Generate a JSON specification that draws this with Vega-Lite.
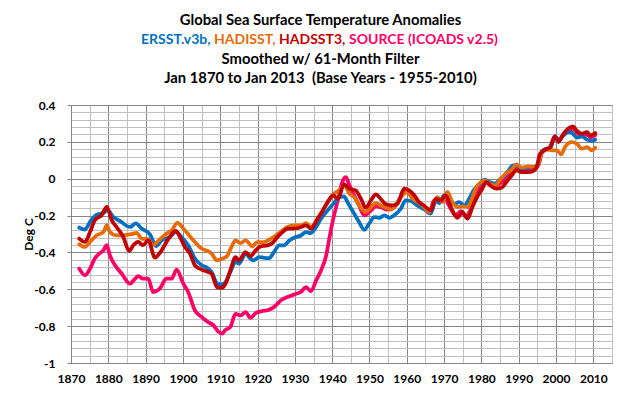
{
  "$schema": "https://vega.github.io/schema/vega-lite/v6.json",
  "width": 541,
  "height": 258,
  "autosize": {"type": "none"},
  "padding": {"left": 71, "top": 105, "right": 30, "bottom": 36},
  "background": "white",
  "config": {
    "view": {"stroke": "#868686", "strokeWidth": 1},
    "font": "Lato"
  },
  "title": {
    "text": "Global Sea Surface Temperature Anomalies",
    "subtitle": ["Smoothed w/ 61-Month Filter", "Jan 1870 to Jan 2013\u00a0 (Base Years - 1955-2010)"],
    "font": "Lato",
    "fontSize": 14.8,
    "fontWeight": "bold",
    "color": "black",
    "subtitleFont": "Lato",
    "subtitleFontSize": 14.8,
    "subtitleFontWeight": "bold",
    "subtitleColor": "black",
    "subtitleLineHeight": 19.4,
    "subtitlePadding": 24,
    "anchor": "middle",
    "frame": "group",
    "dx": -21,
    "offset": -53
  },
  "data": {
    "values": [
      {"s": "SOURCE (ICOADS v2.5)", "t": 1872.2, "v": -0.488},
      {"s": "SOURCE (ICOADS v2.5)", "t": 1873.75, "v": -0.524},
      {"s": "SOURCE (ICOADS v2.5)", "t": 1875.1, "v": -0.488},
      {"s": "SOURCE (ICOADS v2.5)", "t": 1876.4, "v": -0.433},
      {"s": "SOURCE (ICOADS v2.5)", "t": 1877.8, "v": -0.403},
      {"s": "SOURCE (ICOADS v2.5)", "t": 1878.7, "v": -0.388},
      {"s": "SOURCE (ICOADS v2.5)", "t": 1879.6, "v": -0.361},
      {"s": "SOURCE (ICOADS v2.5)", "t": 1880.4, "v": -0.415},
      {"s": "SOURCE (ICOADS v2.5)", "t": 1881.8, "v": -0.47},
      {"s": "SOURCE (ICOADS v2.5)", "t": 1883.6, "v": -0.515},
      {"s": "SOURCE (ICOADS v2.5)", "t": 1885.8, "v": -0.569},
      {"s": "SOURCE (ICOADS v2.5)", "t": 1887.2, "v": -0.542},
      {"s": "SOURCE (ICOADS v2.5)", "t": 1888.0, "v": -0.529},
      {"s": "SOURCE (ICOADS v2.5)", "t": 1889.3, "v": -0.542},
      {"s": "SOURCE (ICOADS v2.5)", "t": 1890.7, "v": -0.542},
      {"s": "SOURCE (ICOADS v2.5)", "t": 1892.0, "v": -0.615},
      {"s": "SOURCE (ICOADS v2.5)", "t": 1893.8, "v": -0.596},
      {"s": "SOURCE (ICOADS v2.5)", "t": 1895.6, "v": -0.542},
      {"s": "SOURCE (ICOADS v2.5)", "t": 1897.0, "v": -0.542},
      {"s": "SOURCE (ICOADS v2.5)", "t": 1898.3, "v": -0.493},
      {"s": "SOURCE (ICOADS v2.5)", "t": 1900.1, "v": -0.569},
      {"s": "SOURCE (ICOADS v2.5)", "t": 1901.4, "v": -0.615},
      {"s": "SOURCE (ICOADS v2.5)", "t": 1903.2, "v": -0.714},
      {"s": "SOURCE (ICOADS v2.5)", "t": 1905.0, "v": -0.75},
      {"s": "SOURCE (ICOADS v2.5)", "t": 1906.5, "v": -0.775},
      {"s": "SOURCE (ICOADS v2.5)", "t": 1908.2, "v": -0.796},
      {"s": "SOURCE (ICOADS v2.5)", "t": 1909.5, "v": -0.83},
      {"s": "SOURCE (ICOADS v2.5)", "t": 1910.5, "v": -0.84},
      {"s": "SOURCE (ICOADS v2.5)", "t": 1911.4, "v": -0.82},
      {"s": "SOURCE (ICOADS v2.5)", "t": 1912.7, "v": -0.805},
      {"s": "SOURCE (ICOADS v2.5)", "t": 1914.1, "v": -0.733},
      {"s": "SOURCE (ICOADS v2.5)", "t": 1915.4, "v": -0.742},
      {"s": "SOURCE (ICOADS v2.5)", "t": 1916.8, "v": -0.724},
      {"s": "SOURCE (ICOADS v2.5)", "t": 1918.1, "v": -0.755},
      {"s": "SOURCE (ICOADS v2.5)", "t": 1919.5, "v": -0.729},
      {"s": "SOURCE (ICOADS v2.5)", "t": 1921.3, "v": -0.718},
      {"s": "SOURCE (ICOADS v2.5)", "t": 1923.1, "v": -0.711},
      {"s": "SOURCE (ICOADS v2.5)", "t": 1924.9, "v": -0.688},
      {"s": "SOURCE (ICOADS v2.5)", "t": 1926.2, "v": -0.66},
      {"s": "SOURCE (ICOADS v2.5)", "t": 1928.0, "v": -0.642},
      {"s": "SOURCE (ICOADS v2.5)", "t": 1929.8, "v": -0.628},
      {"s": "SOURCE (ICOADS v2.5)", "t": 1931.6, "v": -0.615},
      {"s": "SOURCE (ICOADS v2.5)", "t": 1933.0, "v": -0.588},
      {"s": "SOURCE (ICOADS v2.5)", "t": 1934.3, "v": -0.61},
      {"s": "SOURCE (ICOADS v2.5)", "t": 1935.7, "v": -0.552},
      {"s": "SOURCE (ICOADS v2.5)", "t": 1937.0, "v": -0.498},
      {"s": "SOURCE (ICOADS v2.5)", "t": 1938.4, "v": -0.416},
      {"s": "SOURCE (ICOADS v2.5)", "t": 1939.3, "v": -0.317},
      {"s": "SOURCE (ICOADS v2.5)", "t": 1940.2, "v": -0.226},
      {"s": "SOURCE (ICOADS v2.5)", "t": 1941.5, "v": -0.118},
      {"s": "SOURCE (ICOADS v2.5)", "t": 1942.9, "v": -0.009},
      {"s": "SOURCE (ICOADS v2.5)", "t": 1943.7, "v": 0.009},
      {"s": "SOURCE (ICOADS v2.5)", "t": 1944.6, "v": -0.036},
      {"s": "SOURCE (ICOADS v2.5)", "t": 1945.9, "v": -0.09},
      {"s": "SOURCE (ICOADS v2.5)", "t": 1947.2, "v": -0.145},
      {"s": "SOURCE (ICOADS v2.5)", "t": 1948.6, "v": -0.199},
      {"s": "SOURCE (ICOADS v2.5)", "t": 1950.4, "v": -0.172},
      {"s": "SOURCE (ICOADS v2.5)", "t": 1951.7, "v": -0.15},
      {"s": "SOURCE (ICOADS v2.5)", "t": 1953.0, "v": -0.154},
      {"s": "SOURCE (ICOADS v2.5)", "t": 1954.8, "v": -0.168},
      {"s": "SOURCE (ICOADS v2.5)", "t": 1956.6, "v": -0.154},
      {"s": "SOURCE (ICOADS v2.5)", "t": 1958.4, "v": -0.1},
      {"s": "SOURCE (ICOADS v2.5)", "t": 1959.7, "v": -0.072},
      {"s": "SOURCE (ICOADS v2.5)", "t": 1961.1, "v": -0.09},
      {"s": "SOURCE (ICOADS v2.5)", "t": 1962.4, "v": -0.118},
      {"s": "SOURCE (ICOADS v2.5)", "t": 1964.2, "v": -0.145},
      {"s": "SOURCE (ICOADS v2.5)", "t": 1966.0, "v": -0.186},
      {"s": "SOURCE (ICOADS v2.5)", "t": 1967.3, "v": -0.118},
      {"s": "SOURCE (ICOADS v2.5)", "t": 1968.7, "v": -0.118},
      {"s": "SOURCE (ICOADS v2.5)", "t": 1970.0, "v": -0.1},
      {"s": "SOURCE (ICOADS v2.5)", "t": 1971.3, "v": -0.145},
      {"s": "SOURCE (ICOADS v2.5)", "t": 1973.1, "v": -0.199},
      {"s": "SOURCE (ICOADS v2.5)", "t": 1974.5, "v": -0.176},
      {"s": "SOURCE (ICOADS v2.5)", "t": 1975.8, "v": -0.204},
      {"s": "SOURCE (ICOADS v2.5)", "t": 1977.6, "v": -0.145},
      {"s": "SOURCE (ICOADS v2.5)", "t": 1979.4, "v": -0.054},
      {"s": "SOURCE (ICOADS v2.5)", "t": 1980.9, "v": -0.015},
      {"s": "SOURCE (ICOADS v2.5)", "t": 1982.2, "v": -0.03},
      {"s": "SOURCE (ICOADS v2.5)", "t": 1983.6, "v": -0.036},
      {"s": "SOURCE (ICOADS v2.5)", "t": 1985.0, "v": -0.025},
      {"s": "SOURCE (ICOADS v2.5)", "t": 1986.5, "v": 0.0},
      {"s": "SOURCE (ICOADS v2.5)", "t": 1988.1, "v": 0.035},
      {"s": "SOURCE (ICOADS v2.5)", "t": 1989.4, "v": 0.06},
      {"s": "SOURCE (ICOADS v2.5)", "t": 1990.8, "v": 0.045},
      {"s": "SOURCE (ICOADS v2.5)", "t": 1992.6, "v": 0.05},
      {"s": "SOURCE (ICOADS v2.5)", "t": 1994.0, "v": 0.05},
      {"s": "SOURCE (ICOADS v2.5)", "t": 1995.3, "v": 0.075},
      {"s": "SOURCE (ICOADS v2.5)", "t": 1996.2, "v": 0.14},
      {"s": "SOURCE (ICOADS v2.5)", "t": 1997.5, "v": 0.16},
      {"s": "SOURCE (ICOADS v2.5)", "t": 1998.4, "v": 0.168},
      {"s": "SOURCE (ICOADS v2.5)", "t": 1999.7, "v": 0.23},
      {"s": "SOURCE (ICOADS v2.5)", "t": 2000.6, "v": 0.205},
      {"s": "SOURCE (ICOADS v2.5)", "t": 2002.0, "v": 0.24},
      {"s": "SOURCE (ICOADS v2.5)", "t": 2003.3, "v": 0.259},
      {"s": "SOURCE (ICOADS v2.5)", "t": 2004.5, "v": 0.272},
      {"s": "SOURCE (ICOADS v2.5)", "t": 2005.6, "v": 0.25},
      {"s": "SOURCE (ICOADS v2.5)", "t": 2006.9, "v": 0.23},
      {"s": "SOURCE (ICOADS v2.5)", "t": 2008.3, "v": 0.24},
      {"s": "SOURCE (ICOADS v2.5)", "t": 2009.2, "v": 0.225},
      {"s": "SOURCE (ICOADS v2.5)", "t": 2010.5, "v": 0.235},

      {"s": "ERSST.v3b", "t": 1872.2, "v": -0.265},
      {"s": "ERSST.v3b", "t": 1873.75, "v": -0.276},
      {"s": "ERSST.v3b", "t": 1875.1, "v": -0.234},
      {"s": "ERSST.v3b", "t": 1876.9, "v": -0.195},
      {"s": "ERSST.v3b", "t": 1878.7, "v": -0.186},
      {"s": "ERSST.v3b", "t": 1879.8, "v": -0.17},
      {"s": "ERSST.v3b", "t": 1881.3, "v": -0.207},
      {"s": "ERSST.v3b", "t": 1883.1, "v": -0.229},
      {"s": "ERSST.v3b", "t": 1885.8, "v": -0.262},
      {"s": "ERSST.v3b", "t": 1887.4, "v": -0.243},
      {"s": "ERSST.v3b", "t": 1888.9, "v": -0.27},
      {"s": "ERSST.v3b", "t": 1891.2, "v": -0.303},
      {"s": "ERSST.v3b", "t": 1892.8, "v": -0.366},
      {"s": "ERSST.v3b", "t": 1894.3, "v": -0.334},
      {"s": "ERSST.v3b", "t": 1896.5, "v": -0.316},
      {"s": "ERSST.v3b", "t": 1898.1, "v": -0.289},
      {"s": "ERSST.v3b", "t": 1899.6, "v": -0.316},
      {"s": "ERSST.v3b", "t": 1901.4, "v": -0.361},
      {"s": "ERSST.v3b", "t": 1903.2, "v": -0.433},
      {"s": "ERSST.v3b", "t": 1905.0, "v": -0.47},
      {"s": "ERSST.v3b", "t": 1906.6, "v": -0.485},
      {"s": "ERSST.v3b", "t": 1907.7, "v": -0.507},
      {"s": "ERSST.v3b", "t": 1909.1, "v": -0.566},
      {"s": "ERSST.v3b", "t": 1910.5, "v": -0.574},
      {"s": "ERSST.v3b", "t": 1911.4, "v": -0.561},
      {"s": "ERSST.v3b", "t": 1912.7, "v": -0.507},
      {"s": "ERSST.v3b", "t": 1914.1, "v": -0.452},
      {"s": "ERSST.v3b", "t": 1915.0, "v": -0.461},
      {"s": "ERSST.v3b", "t": 1916.8, "v": -0.407},
      {"s": "ERSST.v3b", "t": 1918.1, "v": -0.434},
      {"s": "ERSST.v3b", "t": 1919.0, "v": -0.443},
      {"s": "ERSST.v3b", "t": 1920.4, "v": -0.425},
      {"s": "ERSST.v3b", "t": 1921.7, "v": -0.429},
      {"s": "ERSST.v3b", "t": 1923.1, "v": -0.431},
      {"s": "ERSST.v3b", "t": 1924.4, "v": -0.398},
      {"s": "ERSST.v3b", "t": 1925.8, "v": -0.362},
      {"s": "ERSST.v3b", "t": 1927.1, "v": -0.362},
      {"s": "ERSST.v3b", "t": 1928.5, "v": -0.335},
      {"s": "ERSST.v3b", "t": 1929.8, "v": -0.32},
      {"s": "ERSST.v3b", "t": 1931.6, "v": -0.308},
      {"s": "ERSST.v3b", "t": 1933.0, "v": -0.29},
      {"s": "ERSST.v3b", "t": 1934.3, "v": -0.295},
      {"s": "ERSST.v3b", "t": 1935.7, "v": -0.262},
      {"s": "ERSST.v3b", "t": 1937.0, "v": -0.217},
      {"s": "ERSST.v3b", "t": 1938.8, "v": -0.172},
      {"s": "ERSST.v3b", "t": 1940.2, "v": -0.139},
      {"s": "ERSST.v3b", "t": 1942.0, "v": -0.1},
      {"s": "ERSST.v3b", "t": 1943.2, "v": -0.096},
      {"s": "ERSST.v3b", "t": 1944.1, "v": -0.127},
      {"s": "ERSST.v3b", "t": 1945.9, "v": -0.19},
      {"s": "ERSST.v3b", "t": 1947.2, "v": -0.235},
      {"s": "ERSST.v3b", "t": 1948.6, "v": -0.277},
      {"s": "ERSST.v3b", "t": 1949.9, "v": -0.244},
      {"s": "ERSST.v3b", "t": 1951.3, "v": -0.208},
      {"s": "ERSST.v3b", "t": 1952.6, "v": -0.212},
      {"s": "ERSST.v3b", "t": 1954.0, "v": -0.199},
      {"s": "ERSST.v3b", "t": 1955.3, "v": -0.212},
      {"s": "ERSST.v3b", "t": 1956.6, "v": -0.199},
      {"s": "ERSST.v3b", "t": 1958.4, "v": -0.163},
      {"s": "ERSST.v3b", "t": 1959.7, "v": -0.118},
      {"s": "ERSST.v3b", "t": 1961.1, "v": -0.121},
      {"s": "ERSST.v3b", "t": 1962.4, "v": -0.139},
      {"s": "ERSST.v3b", "t": 1963.8, "v": -0.157},
      {"s": "ERSST.v3b", "t": 1965.1, "v": -0.172},
      {"s": "ERSST.v3b", "t": 1966.4, "v": -0.19},
      {"s": "ERSST.v3b", "t": 1967.8, "v": -0.118},
      {"s": "ERSST.v3b", "t": 1968.7, "v": -0.132},
      {"s": "ERSST.v3b", "t": 1970.0, "v": -0.09},
      {"s": "ERSST.v3b", "t": 1971.3, "v": -0.109},
      {"s": "ERSST.v3b", "t": 1972.7, "v": -0.139},
      {"s": "ERSST.v3b", "t": 1974.0, "v": -0.127},
      {"s": "ERSST.v3b", "t": 1975.4, "v": -0.145},
      {"s": "ERSST.v3b", "t": 1976.7, "v": -0.109},
      {"s": "ERSST.v3b", "t": 1978.0, "v": -0.06},
      {"s": "ERSST.v3b", "t": 1979.5, "v": -0.029},
      {"s": "ERSST.v3b", "t": 1980.9, "v": -0.005},
      {"s": "ERSST.v3b", "t": 1982.2, "v": -0.018},
      {"s": "ERSST.v3b", "t": 1983.6, "v": -0.027},
      {"s": "ERSST.v3b", "t": 1984.9, "v": -0.005},
      {"s": "ERSST.v3b", "t": 1986.3, "v": 0.018},
      {"s": "ERSST.v3b", "t": 1987.2, "v": 0.042},
      {"s": "ERSST.v3b", "t": 1988.5, "v": 0.072},
      {"s": "ERSST.v3b", "t": 1989.9, "v": 0.067},
      {"s": "ERSST.v3b", "t": 1991.2, "v": 0.054},
      {"s": "ERSST.v3b", "t": 1992.6, "v": 0.063},
      {"s": "ERSST.v3b", "t": 1993.9, "v": 0.063},
      {"s": "ERSST.v3b", "t": 1995.3, "v": 0.081},
      {"s": "ERSST.v3b", "t": 1996.2, "v": 0.145},
      {"s": "ERSST.v3b", "t": 1997.5, "v": 0.163},
      {"s": "ERSST.v3b", "t": 1998.4, "v": 0.163},
      {"s": "ERSST.v3b", "t": 1999.7, "v": 0.23},
      {"s": "ERSST.v3b", "t": 2000.6, "v": 0.212},
      {"s": "ERSST.v3b", "t": 2002.0, "v": 0.235},
      {"s": "ERSST.v3b", "t": 2003.3, "v": 0.253},
      {"s": "ERSST.v3b", "t": 2004.2, "v": 0.25},
      {"s": "ERSST.v3b", "t": 2005.6, "v": 0.223},
      {"s": "ERSST.v3b", "t": 2006.9, "v": 0.23},
      {"s": "ERSST.v3b", "t": 2008.3, "v": 0.212},
      {"s": "ERSST.v3b", "t": 2009.6, "v": 0.205},
      {"s": "ERSST.v3b", "t": 2010.5, "v": 0.212},

      {"s": "HADISST", "t": 1872.2, "v": -0.356},
      {"s": "HADISST", "t": 1873.75, "v": -0.37},
      {"s": "HADISST", "t": 1875.1, "v": -0.343},
      {"s": "HADISST", "t": 1876.9, "v": -0.307},
      {"s": "HADISST", "t": 1878.7, "v": -0.289},
      {"s": "HADISST", "t": 1879.6, "v": -0.252},
      {"s": "HADISST", "t": 1880.4, "v": -0.289},
      {"s": "HADISST", "t": 1882.2, "v": -0.307},
      {"s": "HADISST", "t": 1884.0, "v": -0.307},
      {"s": "HADISST", "t": 1886.2, "v": -0.301},
      {"s": "HADISST", "t": 1887.6, "v": -0.294},
      {"s": "HADISST", "t": 1888.9, "v": -0.325},
      {"s": "HADISST", "t": 1890.7, "v": -0.328},
      {"s": "HADISST", "t": 1892.0, "v": -0.361},
      {"s": "HADISST", "t": 1893.4, "v": -0.337},
      {"s": "HADISST", "t": 1895.6, "v": -0.298},
      {"s": "HADISST", "t": 1897.0, "v": -0.28},
      {"s": "HADISST", "t": 1898.5, "v": -0.24},
      {"s": "HADISST", "t": 1900.5, "v": -0.28},
      {"s": "HADISST", "t": 1902.8, "v": -0.334},
      {"s": "HADISST", "t": 1905.0, "v": -0.379},
      {"s": "HADISST", "t": 1906.8, "v": -0.394},
      {"s": "HADISST", "t": 1907.7, "v": -0.407},
      {"s": "HADISST", "t": 1909.1, "v": -0.443},
      {"s": "HADISST", "t": 1910.5, "v": -0.434},
      {"s": "HADISST", "t": 1911.8, "v": -0.42},
      {"s": "HADISST", "t": 1913.2, "v": -0.362},
      {"s": "HADISST", "t": 1914.1, "v": -0.335},
      {"s": "HADISST", "t": 1915.4, "v": -0.349},
      {"s": "HADISST", "t": 1916.8, "v": -0.335},
      {"s": "HADISST", "t": 1918.6, "v": -0.367},
      {"s": "HADISST", "t": 1919.9, "v": -0.344},
      {"s": "HADISST", "t": 1921.7, "v": -0.344},
      {"s": "HADISST", "t": 1923.5, "v": -0.326},
      {"s": "HADISST", "t": 1924.9, "v": -0.308},
      {"s": "HADISST", "t": 1926.7, "v": -0.28},
      {"s": "HADISST", "t": 1928.0, "v": -0.262},
      {"s": "HADISST", "t": 1929.8, "v": -0.253},
      {"s": "HADISST", "t": 1931.6, "v": -0.253},
      {"s": "HADISST", "t": 1933.0, "v": -0.241},
      {"s": "HADISST", "t": 1934.3, "v": -0.262},
      {"s": "HADISST", "t": 1936.1, "v": -0.217},
      {"s": "HADISST", "t": 1937.5, "v": -0.172},
      {"s": "HADISST", "t": 1938.8, "v": -0.127},
      {"s": "HADISST", "t": 1940.6, "v": -0.081},
      {"s": "HADISST", "t": 1942.0, "v": -0.06},
      {"s": "HADISST", "t": 1943.3, "v": -0.036},
      {"s": "HADISST", "t": 1944.6, "v": -0.081},
      {"s": "HADISST", "t": 1945.9, "v": -0.1},
      {"s": "HADISST", "t": 1947.2, "v": -0.145},
      {"s": "HADISST", "t": 1949.0, "v": -0.181},
      {"s": "HADISST", "t": 1950.4, "v": -0.154},
      {"s": "HADISST", "t": 1951.7, "v": -0.132},
      {"s": "HADISST", "t": 1953.0, "v": -0.145},
      {"s": "HADISST", "t": 1954.4, "v": -0.157},
      {"s": "HADISST", "t": 1955.7, "v": -0.168},
      {"s": "HADISST", "t": 1957.1, "v": -0.145},
      {"s": "HADISST", "t": 1958.8, "v": -0.09},
      {"s": "HADISST", "t": 1960.2, "v": -0.072},
      {"s": "HADISST", "t": 1961.5, "v": -0.109},
      {"s": "HADISST", "t": 1962.9, "v": -0.127},
      {"s": "HADISST", "t": 1964.2, "v": -0.145},
      {"s": "HADISST", "t": 1966.0, "v": -0.181},
      {"s": "HADISST", "t": 1967.3, "v": -0.127},
      {"s": "HADISST", "t": 1968.2, "v": -0.1},
      {"s": "HADISST", "t": 1969.6, "v": -0.127},
      {"s": "HADISST", "t": 1970.9, "v": -0.072},
      {"s": "HADISST", "t": 1972.2, "v": -0.127},
      {"s": "HADISST", "t": 1973.6, "v": -0.154},
      {"s": "HADISST", "t": 1974.9, "v": -0.15},
      {"s": "HADISST", "t": 1976.3, "v": -0.154},
      {"s": "HADISST", "t": 1977.6, "v": -0.1},
      {"s": "HADISST", "t": 1978.8, "v": -0.04},
      {"s": "HADISST", "t": 1979.9, "v": -0.02},
      {"s": "HADISST", "t": 1980.9, "v": -0.009},
      {"s": "HADISST", "t": 1982.2, "v": -0.027},
      {"s": "HADISST", "t": 1983.6, "v": -0.036},
      {"s": "HADISST", "t": 1984.9, "v": -0.009},
      {"s": "HADISST", "t": 1986.3, "v": 0.024},
      {"s": "HADISST", "t": 1988.1, "v": 0.049},
      {"s": "HADISST", "t": 1989.4, "v": 0.078},
      {"s": "HADISST", "t": 1990.8, "v": 0.06},
      {"s": "HADISST", "t": 1992.6, "v": 0.067},
      {"s": "HADISST", "t": 1994.4, "v": 0.063},
      {"s": "HADISST", "t": 1995.3, "v": 0.078},
      {"s": "HADISST", "t": 1996.2, "v": 0.145},
      {"s": "HADISST", "t": 1997.5, "v": 0.158},
      {"s": "HADISST", "t": 1998.9, "v": 0.154},
      {"s": "HADISST", "t": 2000.2, "v": 0.154},
      {"s": "HADISST", "t": 2001.4, "v": 0.132},
      {"s": "HADISST", "t": 2002.4, "v": 0.172},
      {"s": "HADISST", "t": 2004.2, "v": 0.199},
      {"s": "HADISST", "t": 2005.6, "v": 0.19},
      {"s": "HADISST", "t": 2006.9, "v": 0.163},
      {"s": "HADISST", "t": 2008.3, "v": 0.172},
      {"s": "HADISST", "t": 2009.6, "v": 0.154},
      {"s": "HADISST", "t": 2010.5, "v": 0.168},

      {"s": "HADSST3", "t": 1872.2, "v": -0.325},
      {"s": "HADSST3", "t": 1873.75, "v": -0.343},
      {"s": "HADSST3", "t": 1875.1, "v": -0.289},
      {"s": "HADSST3", "t": 1876.4, "v": -0.225},
      {"s": "HADSST3", "t": 1878.2, "v": -0.198},
      {"s": "HADSST3", "t": 1879.6, "v": -0.153},
      {"s": "HADSST3", "t": 1880.9, "v": -0.225},
      {"s": "HADSST3", "t": 1882.2, "v": -0.262},
      {"s": "HADSST3", "t": 1884.0, "v": -0.316},
      {"s": "HADSST3", "t": 1885.6, "v": -0.392},
      {"s": "HADSST3", "t": 1886.7, "v": -0.361},
      {"s": "HADSST3", "t": 1888.0, "v": -0.343},
      {"s": "HADSST3", "t": 1889.3, "v": -0.361},
      {"s": "HADSST3", "t": 1890.7, "v": -0.334},
      {"s": "HADSST3", "t": 1892.5, "v": -0.428},
      {"s": "HADSST3", "t": 1893.8, "v": -0.403},
      {"s": "HADSST3", "t": 1895.6, "v": -0.343},
      {"s": "HADSST3", "t": 1897.0, "v": -0.301},
      {"s": "HADSST3", "t": 1898.1, "v": -0.283},
      {"s": "HADSST3", "t": 1899.2, "v": -0.316},
      {"s": "HADSST3", "t": 1900.5, "v": -0.37},
      {"s": "HADSST3", "t": 1901.9, "v": -0.406},
      {"s": "HADSST3", "t": 1903.2, "v": -0.47},
      {"s": "HADSST3", "t": 1905.0, "v": -0.493},
      {"s": "HADSST3", "t": 1906.6, "v": -0.505},
      {"s": "HADSST3", "t": 1907.7, "v": -0.516},
      {"s": "HADSST3", "t": 1909.1, "v": -0.588},
      {"s": "HADSST3", "t": 1910.5, "v": -0.592},
      {"s": "HADSST3", "t": 1911.4, "v": -0.57},
      {"s": "HADSST3", "t": 1912.7, "v": -0.498},
      {"s": "HADSST3", "t": 1914.1, "v": -0.425},
      {"s": "HADSST3", "t": 1915.0, "v": -0.443},
      {"s": "HADSST3", "t": 1916.8, "v": -0.398},
      {"s": "HADSST3", "t": 1918.1, "v": -0.42},
      {"s": "HADSST3", "t": 1919.5, "v": -0.389},
      {"s": "HADSST3", "t": 1920.8, "v": -0.367},
      {"s": "HADSST3", "t": 1922.6, "v": -0.362},
      {"s": "HADSST3", "t": 1924.0, "v": -0.349},
      {"s": "HADSST3", "t": 1925.3, "v": -0.317},
      {"s": "HADSST3", "t": 1926.7, "v": -0.29},
      {"s": "HADSST3", "t": 1928.0, "v": -0.271},
      {"s": "HADSST3", "t": 1929.4, "v": -0.271},
      {"s": "HADSST3", "t": 1931.2, "v": -0.266},
      {"s": "HADSST3", "t": 1933.0, "v": -0.253},
      {"s": "HADSST3", "t": 1934.3, "v": -0.271},
      {"s": "HADSST3", "t": 1936.1, "v": -0.217},
      {"s": "HADSST3", "t": 1937.5, "v": -0.172},
      {"s": "HADSST3", "t": 1938.8, "v": -0.127},
      {"s": "HADSST3", "t": 1940.2, "v": -0.09},
      {"s": "HADSST3", "t": 1941.5, "v": -0.109},
      {"s": "HADSST3", "t": 1943.2, "v": -0.031},
      {"s": "HADSST3", "t": 1944.6, "v": -0.054},
      {"s": "HADSST3", "t": 1946.3, "v": -0.063},
      {"s": "HADSST3", "t": 1947.7, "v": -0.109},
      {"s": "HADSST3", "t": 1949.0, "v": -0.157},
      {"s": "HADSST3", "t": 1950.4, "v": -0.118},
      {"s": "HADSST3", "t": 1951.7, "v": -0.085},
      {"s": "HADSST3", "t": 1953.0, "v": -0.109},
      {"s": "HADSST3", "t": 1954.4, "v": -0.139},
      {"s": "HADSST3", "t": 1956.2, "v": -0.145},
      {"s": "HADSST3", "t": 1957.5, "v": -0.136},
      {"s": "HADSST3", "t": 1959.3, "v": -0.054},
      {"s": "HADSST3", "t": 1960.6, "v": -0.063},
      {"s": "HADSST3", "t": 1962.0, "v": -0.09},
      {"s": "HADSST3", "t": 1963.3, "v": -0.127},
      {"s": "HADSST3", "t": 1964.6, "v": -0.145},
      {"s": "HADSST3", "t": 1966.4, "v": -0.172},
      {"s": "HADSST3", "t": 1967.8, "v": -0.109},
      {"s": "HADSST3", "t": 1969.1, "v": -0.118},
      {"s": "HADSST3", "t": 1970.4, "v": -0.09},
      {"s": "HADSST3", "t": 1971.8, "v": -0.154},
      {"s": "HADSST3", "t": 1973.6, "v": -0.212},
      {"s": "HADSST3", "t": 1974.9, "v": -0.181},
      {"s": "HADSST3", "t": 1976.3, "v": -0.217},
      {"s": "HADSST3", "t": 1977.6, "v": -0.154},
      {"s": "HADSST3", "t": 1979.1, "v": -0.09},
      {"s": "HADSST3", "t": 1980.0, "v": -0.063},
      {"s": "HADSST3", "t": 1981.3, "v": -0.018},
      {"s": "HADSST3", "t": 1982.7, "v": -0.042},
      {"s": "HADSST3", "t": 1984.0, "v": -0.054},
      {"s": "HADSST3", "t": 1985.4, "v": -0.049},
      {"s": "HADSST3", "t": 1986.7, "v": -0.018},
      {"s": "HADSST3", "t": 1988.1, "v": 0.018},
      {"s": "HADSST3", "t": 1989.4, "v": 0.045},
      {"s": "HADSST3", "t": 1990.8, "v": 0.036},
      {"s": "HADSST3", "t": 1992.6, "v": 0.036},
      {"s": "HADSST3", "t": 1993.9, "v": 0.042},
      {"s": "HADSST3", "t": 1994.8, "v": 0.063},
      {"s": "HADSST3", "t": 1995.7, "v": 0.136},
      {"s": "HADSST3", "t": 1997.1, "v": 0.158},
      {"s": "HADSST3", "t": 1998.4, "v": 0.172},
      {"s": "HADSST3", "t": 1999.7, "v": 0.23},
      {"s": "HADSST3", "t": 2000.6, "v": 0.199},
      {"s": "HADSST3", "t": 2002.0, "v": 0.244},
      {"s": "HADSST3", "t": 2003.3, "v": 0.272},
      {"s": "HADSST3", "t": 2004.5, "v": 0.284},
      {"s": "HADSST3", "t": 2005.6, "v": 0.259},
      {"s": "HADSST3", "t": 2006.9, "v": 0.244},
      {"s": "HADSST3", "t": 2008.3, "v": 0.253},
      {"s": "HADSST3", "t": 2009.2, "v": 0.235},
      {"s": "HADSST3", "t": 2010.5, "v": 0.248}
    ]
  },
  "mark": {"type": "line", "strokeWidth": 3.75, "interpolate": "monotone", "strokeCap": "round", "strokeJoin": "round"},
  "encoding": {
    "x": {
      "field": "t",
      "type": "quantitative",
      "scale": {"domain": [1870, 2015], "nice": false, "zero": false},
      "axis": {
        "title": null,
        "values": [1870, 1875, 1880, 1885, 1890, 1895, 1900, 1905, 1910, 1915, 1920, 1925, 1930, 1935, 1940, 1945, 1950, 1955, 1960, 1965, 1970, 1975, 1980, 1985, 1990, 1995, 2000, 2005, 2010, 2015],
        "labelExpr": "datum.value % 10 == 0 ? '' + datum.value : ''",
        "grid": true,
        "gridColor": {"condition": {"test": "datum.value % 10 == 0", "value": "#868686"}, "value": "#C0C0C0"},
        "gridWidth": 1,
        "ticks": false,
        "domainColor": "#868686",
        "labelFont": "Lato",
        "labelFontSize": 12,
        "labelFontWeight": "bold",
        "labelColor": "black",
        "labelPadding": 10,
        "labelFlush": false,
        "labelOverlap": false
      }
    },
    "y": {
      "field": "v",
      "type": "quantitative",
      "scale": {"domain": [-1, 0.4], "nice": false, "zero": false},
      "axis": {
        "title": "Deg C",
        "titleFont": "Lato",
        "titleFontSize": 12,
        "titleFontWeight": "bold",
        "titleColor": "black",
        "titleX": -43,
        "titleY": 129,
        "titleAlign": "center",
        "titleBaseline": "middle",
        "titleAngle": 270,
        "values": [-1, -0.96, -0.92, -0.88, -0.84, -0.8, -0.76, -0.72, -0.68, -0.64, -0.6, -0.56, -0.52, -0.48, -0.44, -0.4, -0.36, -0.32, -0.28, -0.24, -0.2, -0.16, -0.12, -0.08, -0.04, 0, 0.04, 0.08, 0.12, 0.16, 0.2, 0.24, 0.28, 0.32, 0.36, 0.4],
        "labelExpr": "abs(datum.value * 5 - round(datum.value * 5)) < 0.001 ? '' + round(datum.value * 10) / 10 : ''",
        "grid": true,
        "gridColor": {"condition": {"test": "abs(datum.value * 5 - round(datum.value * 5)) < 0.001", "value": "#868686"}, "value": "#C0C0C0"},
        "gridWidth": 1,
        "tickSize": 4,
        "tickColor": "#868686",
        "tickOpacity": {"condition": {"test": "abs(datum.value * 5 - round(datum.value * 5)) < 0.001", "value": 1}, "value": 0},
        "domainColor": "#868686",
        "labelFont": "Lato",
        "labelFontSize": 12,
        "labelFontWeight": "bold",
        "labelColor": "black",
        "labelPadding": 12,
        "labelFlush": false,
        "labelOverlap": false
      }
    },
    "color": {
      "field": "s",
      "type": "nominal",
      "scale": {
        "domain": ["ERSST.v3b", "HADISST", "HADSST3", "SOURCE (ICOADS v2.5)"],
        "range": ["#0070C0", "#E46C0A", "#C00000", "#FF0066"]
      },
      "legend": {
        "orient": "none",
        "legendX": 70,
        "legendY": -72,
        "direction": "horizontal",
        "gridAlign": "none",
        "padding": 0,
        "title": null,
        "symbolSize": 0,
        "symbolOpacity": 0,
        "symbolStrokeWidth": 0,
        "labelOffset": -14,
        "columnPadding": 3,
        "labelFont": "Lato",
        "labelFontSize": 14,
        "labelFontWeight": "bold",
        "labelLimit": 300,
        "labelColor": {"expr": "scale('color', datum.value)"},
        "labelExpr": "datum.label == 'SOURCE (ICOADS v2.5)' ? datum.label : datum.label + ','"
      }
    }
  }
}
